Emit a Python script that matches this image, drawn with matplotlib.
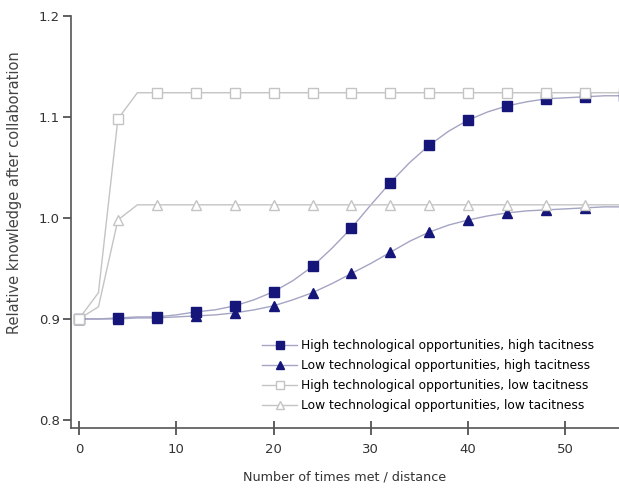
import matplotlib.pyplot as plt

x = [0, 2, 4, 6, 8, 10, 12, 14, 16, 18, 20, 22, 24, 26, 28, 30, 32, 34, 36, 38, 40, 42, 44, 46, 48, 50, 52, 54, 56]

# high opportunities, high tacitness
hi_hi = [0.900, 0.900, 0.901, 0.902, 0.902, 0.904, 0.907, 0.909, 0.913, 0.919, 0.927, 0.938, 0.952, 0.970, 0.990, 1.013, 1.035, 1.055, 1.072, 1.086, 1.097, 1.105, 1.111, 1.115, 1.118, 1.119, 1.120, 1.121, 1.121]
# low opportunities, high tacitness
lo_hi = [0.900, 0.900, 0.900, 0.901, 0.901, 0.902, 0.903, 0.904, 0.906, 0.909, 0.913, 0.919, 0.926, 0.935, 0.945, 0.955, 0.966, 0.977, 0.986, 0.993, 0.998, 1.002, 1.005, 1.007, 1.008, 1.009, 1.010, 1.011, 1.011]
# high opportunities, low tacitness
hi_lo = [0.900, 0.926, 1.098, 1.124, 1.124, 1.124, 1.124, 1.124, 1.124, 1.124, 1.124, 1.124, 1.124, 1.124, 1.124, 1.124, 1.124, 1.124, 1.124, 1.124, 1.124, 1.124, 1.124, 1.124, 1.124, 1.124, 1.124, 1.124, 1.124]
# low opportunities, low tacitness
lo_lo = [0.900, 0.912, 0.998, 1.013, 1.013, 1.013, 1.013, 1.013, 1.013, 1.013, 1.013, 1.013, 1.013, 1.013, 1.013, 1.013, 1.013, 1.013, 1.013, 1.013, 1.013, 1.013, 1.013, 1.013, 1.013, 1.013, 1.013, 1.013, 1.013]

labels = ["High technological opportunities, high tacitness",
          "Low technological opportunities, high tacitness",
          "High technological opportunities, low tacitness",
          "Low technological opportunities, low tacitness"]

navy = "#15157a"
dline = "#a4a4c4"
grey = "#c4c4c4"

fig = plt.figure(figsize=(6.19, 4.88), dpi=100)
ax = fig.add_axes([71/619, 60/488, 548/619, 412/488])

ax.plot(x, lo_lo, color=grey, lw=1, marker="^", ms=7.5, mfc="white", mec=grey, markevery=2, label=labels[3], zorder=2)
ax.plot(x, hi_lo, color=grey, lw=1, marker="s", ms=7.5, mfc="white", mec=grey, markevery=2, label=labels[2], zorder=2)
ax.plot(x, lo_hi, color=dline, lw=1, marker="^", ms=7.5, mfc=navy, mec=navy, markevery=2, label=labels[1], zorder=1)
ax.plot(x, hi_hi, color=dline, lw=1, marker="s", ms=7.5, mfc=navy, mec=navy, markevery=2, label=labels[0], zorder=1)

ax.set_xlim(-0.82, 55.5)
ax.set_ylim(0.792, 1.2)
ax.set_xticks([0, 10, 20, 30, 40, 50])
ax.set_yticks([0.8, 0.9, 1.0, 1.1, 1.2])
ax.set_yticklabels(["0.8", "0.9", "1.0", "1.1", "1.2"])

for s in ["top", "right"]:
    ax.spines[s].set_visible(False)
for s in ["left", "bottom"]:
    ax.spines[s].set_color("#555555")
    ax.spines[s].set_linewidth(1.2)
ax.tick_params(axis="x", direction="inout", length=10, width=1.2, color="#444444", labelsize=9.5, labelcolor="#333333", pad=6)
ax.tick_params(axis="y", direction="out", length=6, width=1.2, color="#444444", labelsize=9.5, labelcolor="#333333", pad=2)

ax.set_xlabel("Number of times met / distance", fontsize=9.2, color="#333333", labelpad=10)
fig.text(15/619, 1 - 193/488, "Relative knowledge after collaboration", rotation=90,
         fontsize=10.5, color="#444444", ha="center", va="center")

h, l = ax.get_legend_handles_labels()
ax.legend(h[::-1], l[::-1], loc="lower left", bbox_to_anchor=(262/619, 76/488),
          bbox_transform=fig.transFigure, frameon=False, borderpad=0, borderaxespad=0,
          fontsize=8.8, labelspacing=0.56, handlelength=2.9, handletextpad=0.3, markerscale=0.8)

plt.savefig("out.png", dpi=100)
